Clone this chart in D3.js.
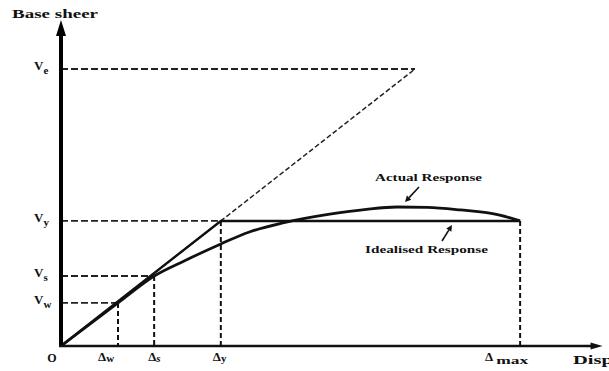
<!DOCTYPE html>
<html>
<head>
<meta charset="utf-8">
<script src="https://cdn.jsdelivr.net/npm/d3@7"></script>
<style>
  html, body { margin: 0; padding: 0; background: #fff; }
  svg { display: block; }
  text { font-family: "Liberation Serif", "DejaVu Serif", serif; font-weight: bold; fill: #111; }
</style>
</head>
<body>
<svg id="chart" width="609" height="371"></svg>
<script>
// Displacement levels (x) and their labels
const dispKeys   = ["w", "s", "y", "max"];
const dispValues = [1.12, 1.83, 3.14, 9.02];
// Base shear levels (y) and their labels
const shearKeys   = ["w", "s", "y", "e"];
const shearValues = [1.33, 2.16, 3.86, 8.55];

// Actual (nonlinear) response curve: displacement / base shear
const actualDisp  = [0, 1.12, 1.83, 2.44, 3.14, 3.70, 4.36, 5.28, 6.00, 6.60, 7.20, 7.84, 8.62, 9.02];
const actualShear = [0, 1.33, 2.16, 2.64, 3.15, 3.52, 3.80, 4.07, 4.22, 4.29, 4.28, 4.20, 4.04, 3.86];

// Idealised bilinear response: origin -> yield -> ultimate displacement
const idealDisp  = [0, 3.14, 9.02];
const idealShear = [0, 3.86, 3.86];

const svg = d3.select("#chart");
const x = d3.scaleLinear().domain([0, 10]).range([61, 570]);
const y = d3.scaleLinear().domain([0, 10]).range([346, 22]);

const xEnd = 10.6;   // axis arrow tip (displacement)
const yEnd = 10;     // axis arrow tip (shear)

const line = d3.line().x(d => x(d[0])).y(d => y(d[1]));

// ---- elastic reference line up to Ve (dashed)
const kElastic = idealShear[1] / idealDisp[1];
const vE = shearValues[3];
const dE = vE / kElastic;
svg.append("path")
  .attr("d", line([[0, 0], [dE, vE]]))
  .attr("fill", "none").attr("stroke", "#222").attr("stroke-width", 1.5)
  .attr("stroke-dasharray", "5,2.5");

// ---- horizontal dashed guides from shear axis
const guideEnds = {
  w: dispValues[0],
  s: dispValues[1],
  y: dispValues[2],
  e: dE
};
shearKeys.forEach((k, i) => {
  svg.append("line")
    .attr("x1", x(0)).attr("x2", x(guideEnds[k]))
    .attr("y1", y(shearValues[i])).attr("y2", y(shearValues[i]))
    .attr("stroke", "#222").attr("stroke-width", 1.8)
    .attr("stroke-dasharray", "7,3");
});

// ---- vertical dashed guides down to displacement axis
const vertTops = [shearValues[0], shearValues[1], shearValues[2], idealShear[2]];
dispKeys.forEach((k, i) => {
  svg.append("line")
    .attr("x1", x(dispValues[i])).attr("x2", x(dispValues[i]))
    .attr("y1", y(vertTops[i])).attr("y2", y(0))
    .attr("stroke", "#111").attr("stroke-width", 2)
    .attr("stroke-dasharray", "5,3");
});

// ---- idealised response
svg.append("path")
  .attr("d", line(idealDisp.map((d, i) => [d, idealShear[i]])))
  .attr("fill", "none").attr("stroke", "#111").attr("stroke-width", 2.4);

// ---- actual response
svg.append("path")
  .attr("d", line.curve(d3.curveMonotoneX)(actualDisp.map((d, i) => [d, actualShear[i]])))
  .attr("fill", "none").attr("stroke", "#111").attr("stroke-width", 2.8);
line.curve(d3.curveLinear);

// ---- axes with arrowheads
svg.append("line")
  .attr("x1", x(0)).attr("x2", x(0))
  .attr("y1", y(0) + 1).attr("y2", y(yEnd) + 10)
  .attr("stroke", "#000").attr("stroke-width", 4);
svg.append("path")
  .attr("d", `M${x(0)},${y(yEnd) - 2} L${x(0) - 5},${y(yEnd) + 14} L${x(0) + 5},${y(yEnd) + 14} Z`)
  .attr("fill", "#000");

svg.append("line")
  .attr("x1", x(0) - 2).attr("x2", x(xEnd) - 8)
  .attr("y1", y(0)).attr("y2", y(0))
  .attr("stroke", "#111").attr("stroke-width", 2.4);
svg.append("path")
  .attr("d", `M${x(xEnd) + 2},${y(0)} L${x(xEnd) - 10},${y(0) - 3.5} L${x(xEnd) - 10},${y(0) + 3.5} Z`)
  .attr("fill", "#111");

// ---- axis titles
svg.append("text").attr("x", 12).attr("y", 18)
  .attr("font-size", 12).attr("textLength", 86).attr("lengthAdjust", "spacingAndGlyphs")
  .text("Base sheer");
svg.append("text").attr("x", 573).attr("y", 364)
  .attr("font-size", 13).attr("textLength", 40).attr("lengthAdjust", "spacingAndGlyphs")
  .text("Disp");

// ---- origin label
svg.append("text").attr("x", 52).attr("y", 362)
  .attr("font-size", 12).attr("text-anchor", "middle").text("O");

// ---- shear labels (V with subscript)
shearKeys.forEach((k, i) => {
  const yy = y(shearValues[i]);
  const t = svg.append("text").attr("x", 34).attr("y", yy + 1).attr("font-size", 13);
  t.append("tspan").text("V");
  t.append("tspan").attr("dy", 4).attr("font-size", 11).text(k);
});

// ---- displacement labels (Δ with subscript)
const dispLabelOffset = { w: -20, s: -6, y: -8, max: -35 };
dispKeys.forEach((k, i) => {
  const xx = x(dispValues[i]) + dispLabelOffset[k];
  const t = svg.append("text").attr("x", xx).attr("y", 361).attr("font-size", 13);
  t.append("tspan").text("Δ");
  const sub = t.append("tspan").attr("dy", k === "max" ? 3 : 1)
    .attr("font-size", k === "max" ? 10 : 11).attr("dx", k === "max" ? 3 : 0).text(k);
  if (k === "max") sub.attr("textLength", 32).attr("lengthAdjust", "spacingAndGlyphs");
  if (k === "s") sub.attr("font-style", "italic");
});

// ---- curve annotations
svg.append("text").attr("x", 375).attr("y", 181)
  .attr("font-size", 11).attr("textLength", 107).attr("lengthAdjust", "spacingAndGlyphs")
  .text("Actual Response");
svg.append("text").attr("x", 365).attr("y", 253)
  .attr("font-size", 11).attr("textLength", 123).attr("lengthAdjust", "spacingAndGlyphs")
  .text("Idealised Response");

function pointer(x1, y1, x2, y2) {
  const a = Math.atan2(y2 - y1, x2 - x1);
  const L = 6, W = 3;
  const bx = x2 - L * Math.cos(a), by = y2 - L * Math.sin(a);
  svg.append("line").attr("x1", x1).attr("y1", y1).attr("x2", bx).attr("y2", by)
    .attr("stroke", "#111").attr("stroke-width", 1.6);
  svg.append("path")
    .attr("d", `M${x2},${y2} L${bx - W * Math.sin(a)},${by + W * Math.cos(a)} L${bx + W * Math.sin(a)},${by - W * Math.cos(a)} Z`)
    .attr("fill", "#111");
}
pointer(419, 187, 405, 202);
pointer(442, 241, 452, 225);
</script>
</body>
</html>
